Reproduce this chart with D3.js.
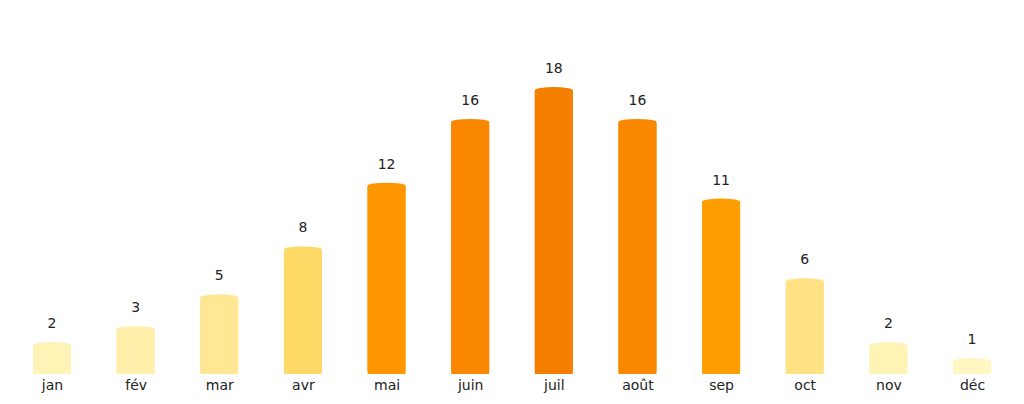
<!DOCTYPE html>
<html><head><meta charset="utf-8">
<script src="https://cdn.jsdelivr.net/npm/d3@7"></script>
<style>body{margin:0;background:#fff}text{font-family:"DejaVu Sans",sans-serif}</style>
</head><body><svg id="c" width="1024" height="404"></svg>
<script>
const months = ["jan","fév","mar","avr","mai","juin","juil","août","sep","oct","nov","déc"];
const values = [2,3,5,8,12,16,18,16,11,6,2,1];

const svg = d3.select("#c");
const x = d3.scalePoint().domain(months).range([52,972]);
const y = d3.scaleLinear().domain([0,18]).range([374,87]);
const color = d3.scaleLinear().domain([1,3,5,8,11,12,16,18])
  .range(["#fff6c2","#ffefaa","#ffe793","#ffd966","#ff9e00","#ff9600","#f98800","#f57f00"]);
const w = 38;

const g = svg.append("g");
months.forEach((m,i)=>{
  const v = values[i], cx = x(m), top = y(v);
  g.append("rect").attr("x",cx-w/2).attr("y",top).attr("width",w).attr("height",y(0)-top)
    .attr("rx",w/2).attr("ry",3).attr("fill",color(v));
  g.append("rect").attr("x",cx-w/2).attr("y",top+4).attr("width",w).attr("height",y(0)-top-4)
    .attr("fill",color(v));
  g.append("text").attr("x",cx).attr("y",top-14).attr("text-anchor","middle")
    .attr("font-size",14).attr("fill","#222").text(v);
});
const ax = svg.append("g").attr("transform","translate(0,374)")
  .call(d3.axisBottom(x).tickSize(0).tickPadding(6));
ax.select(".domain").remove();
ax.selectAll("text").attr("font-size",14).attr("fill","#222").style("font-family","DejaVu Sans");
</script></body></html>
